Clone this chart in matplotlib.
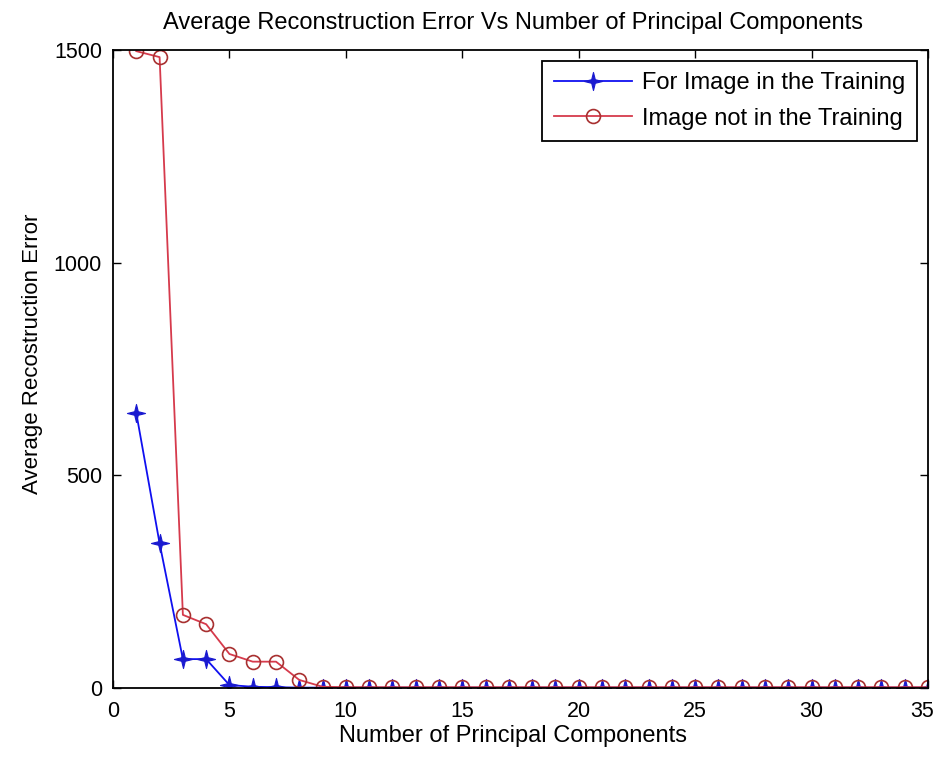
import matplotlib
matplotlib.use("Agg")
import matplotlib.pyplot as plt
from matplotlib.path import Path
from matplotlib.transforms import ScaledTranslation

plt.rcParams['font.family'] = ['Liberation Sans', 'DejaVu Sans']

components = list(range(1, 36))
err_in_training = [646, 340, 68, 68, 7, 3, 2, 1, 1, 1, 1, 1, 1, 1, 1, 1, 1, 1, 1, 1,
                   1, 1, 1, 1, 1, 1, 1, 1, 1, 1, 1, 1, 1, 1, 1]
err_not_in_training = [1497, 1483, 172, 150, 80, 62, 62, 19, 3, 2, 2, 2, 2, 2, 2, 2, 2, 2, 2, 2,
                       2, 2, 2, 2, 2, 2, 2, 2, 2, 2, 2, 2, 2, 2, 2]
x_ticks = [0, 5, 10, 15, 20, 25, 30, 35]
y_ticks = [0, 500, 1000, 1500]

# thin four-pointed star: a plus sign with a filled centre
star4 = Path.unit_regular_star(4, innerCircle=0.28)

fig = plt.figure(figsize=(9.38, 7.57), dpi=100)
ax = fig.add_axes([0.1205, 0.0911, 0.8688, 0.843])

ax.plot(components, err_in_training, color='#1010f0', lw=1.3,
        marker=star4, markersize=13, markerfacecolor='#1a1ad0',
        markeredgecolor='#1a1ad0', markeredgewidth=0.8,
        label='For Image in the Training')
ax.plot(components, err_not_in_training, color='#d63a4c', lw=1.3,
        marker='o', markersize=10, markerfacecolor='none',
        markeredgecolor='#a83030', markeredgewidth=1.2,
        label='Image not in the Training')

ax.set_xlim(0, 35)
ax.set_ylim(0, 1500)
ax.set_xticks(x_ticks)
ax.set_yticks(y_ticks)
ax.tick_params(direction='in', top=True, right=True, labelsize=15.5,
               length=6, width=1)
ax.tick_params(axis='x', pad=9)
ax.tick_params(axis='y', pad=8)
for s in ax.spines.values():
    s.set_linewidth(1.3)

# keep the last x tick label inside the figure
fig.canvas.draw()
last = ax.get_xticklabels()[-1]
last.set_transform(last.get_transform() + ScaledTranslation(-6 / 100, 0, fig.dpi_scale_trans))

ax.set_title('Average Reconstruction Error Vs Number of Principal Components',
             fontsize=17, x=0.491, pad=15)
ax.set_xlabel('Number of Principal Components', fontsize=17)
ax.xaxis.set_label_coords(0.491, -0.058)
ax.set_ylabel('Average Recostruction Error', fontsize=16)
ax.yaxis.set_label_coords(-0.086, 0.523)

leg = ax.legend(loc='upper right', fontsize=17, fancybox=False, framealpha=1,
                edgecolor='black', borderaxespad=0.45, handlelength=3.3,
                handletextpad=0.45, borderpad=0.5, labelspacing=0.56)
leg.get_frame().set_linewidth(1.3)

fig.savefig('out.png', dpi=100)
